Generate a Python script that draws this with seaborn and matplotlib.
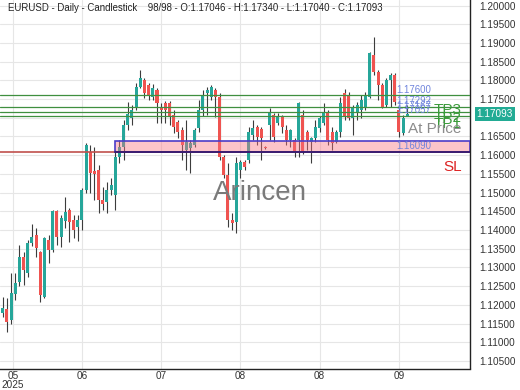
import numpy as np
import pandas as pd
import matplotlib
matplotlib.use("Agg")
import matplotlib.pyplot as plt
import matplotlib.transforms as mtransforms
from matplotlib.patches import Rectangle
import seaborn as sns

# ---------------- data ----------------
opens = [1.1178, 1.1190, 1.1160, 1.1228, 1.1262, 1.1328, 1.1285, 1.1365, 1.1386, 1.1341,
         1.1221, 1.1373, 1.1347, 1.1451, 1.1381, 1.1424, 1.1453, 1.1426, 1.1408, 1.1427,
         1.1507, 1.1608, 1.1557, 1.1560, 1.1480, 1.1475, 1.1507, 1.1493, 1.1595, 1.1622,
         1.1681, 1.1700, 1.1729, 1.1782, 1.1801, 1.1788, 1.1756, 1.1774, 1.1729, 1.1740,
         1.1740, 1.1707, 1.1688, 1.1667, 1.1614, 1.1619, 1.1627, 1.1672, 1.1720, 1.1766,
         1.1756, 1.1774, 1.1756, 1.1595, 1.1547, 1.1427, 1.1421, 1.1560, 1.1581, 1.1587,
         1.1654, 1.1675, 1.1670, 1.1622, 1.1681, 1.1707, 1.1686, 1.1702, 1.1667, 1.1640,
         1.1640, 1.1640, 1.1707, 1.1662, 1.1635, 1.1646, 1.1672, 1.1686, 1.1713, 1.1662,
         1.1635, 1.1662, 1.1766, 1.1761, 1.1699, 1.1713, 1.1721, 1.1729, 1.1756, 1.1868,
         1.1822, 1.1788, 1.1734, 1.1801, 1.1814, 1.1721, 1.1659, 1.17046]
highs = [1.1221, 1.1218, 1.1285, 1.1285, 1.1360, 1.1341, 1.1373, 1.1416, 1.1405, 1.1345,
         1.1381, 1.1386, 1.1453, 1.1453, 1.1440, 1.1488, 1.1459, 1.1440, 1.1440, 1.1512,
         1.1632, 1.1627, 1.1621, 1.1573, 1.1515, 1.1528, 1.1539, 1.1614, 1.1640, 1.1694,
         1.1742, 1.1735, 1.1793, 1.1827, 1.1806, 1.1793, 1.1790, 1.1780, 1.1740, 1.1745,
         1.1745, 1.1720, 1.1694, 1.1675, 1.1694, 1.1640, 1.1672, 1.1748, 1.1774, 1.1782,
         1.1788, 1.1780, 1.1766, 1.1600, 1.1579, 1.1445, 1.1595, 1.1587, 1.1587, 1.1675,
         1.1694, 1.1680, 1.1675, 1.1625, 1.1726, 1.1713, 1.1713, 1.1707, 1.1680, 1.1670,
         1.1646, 1.1742, 1.1721, 1.1667, 1.1648, 1.1694, 1.1705, 1.1740, 1.1721, 1.1675,
         1.1667, 1.1756, 1.1777, 1.1769, 1.1734, 1.1742, 1.1761, 1.1769, 1.1876, 1.1916,
         1.1827, 1.1793, 1.1806, 1.1820, 1.1820, 1.1726, 1.1707, 1.17340]
lows = [1.1168, 1.1127, 1.1150, 1.1213, 1.1250, 1.1253, 1.1275, 1.1358, 1.1328, 1.1208,
        1.1218, 1.1312, 1.1341, 1.1360, 1.1354, 1.1405, 1.1368, 1.1379, 1.1370, 1.1400,
        1.1499, 1.1500, 1.1480, 1.1445, 1.1453, 1.1445, 1.1493, 1.1453, 1.1579, 1.1587,
        1.1667, 1.1680, 1.1720, 1.1780, 1.1753, 1.1748, 1.1748, 1.1686, 1.1686, 1.1686,
        1.1680, 1.1660, 1.1646, 1.1587, 1.1560, 1.1552, 1.1622, 1.1662, 1.1705, 1.1707,
        1.1748, 1.1702, 1.1587, 1.1540, 1.1408, 1.1400, 1.1392, 1.1540, 1.1560, 1.1579,
        1.1640, 1.1627, 1.1587, 1.1616, 1.1640, 1.1635, 1.1680, 1.1659, 1.1627, 1.1622,
        1.1595, 1.1595, 1.1603, 1.1614, 1.1579, 1.1635, 1.1662, 1.1680, 1.1627, 1.1614,
        1.1632, 1.1648, 1.1694, 1.1694, 1.1654, 1.1694, 1.1700, 1.1721, 1.1753, 1.1814,
        1.1748, 1.1726, 1.1729, 1.1729, 1.1734, 1.1648, 1.1654, 1.17040]
closes = [1.1192, 1.1154, 1.1232, 1.1258, 1.1328, 1.1293, 1.1365, 1.1381, 1.1352, 1.1226,
          1.1379, 1.1347, 1.1451, 1.1381, 1.1432, 1.1448, 1.1421, 1.1400, 1.1426, 1.1507,
          1.1627, 1.1552, 1.1549, 1.1480, 1.1470, 1.1507, 1.1520, 1.1595, 1.1622, 1.1681,
          1.1710, 1.1722, 1.1782, 1.1806, 1.1766, 1.1761, 1.1780, 1.1740, 1.1721, 1.1721,
          1.1702, 1.1675, 1.1662, 1.1627, 1.1635, 1.1632, 1.1667, 1.1720, 1.1761, 1.1774,
          1.1782, 1.1756, 1.1595, 1.1547, 1.1427, 1.1419, 1.1579, 1.1581, 1.1568, 1.1662,
          1.1672, 1.1648, 1.1646, 1.1619, 1.1713, 1.1648, 1.1702, 1.1675, 1.1640, 1.1667,
          1.1608, 1.1740, 1.1608, 1.1640, 1.1646, 1.1675, 1.1699, 1.1713, 1.1640, 1.1632,
          1.1662, 1.1740, 1.1702, 1.1699, 1.1729, 1.1734, 1.1748, 1.1761, 1.1873, 1.1822,
          1.1788, 1.1729, 1.1801, 1.1814, 1.1742, 1.1662, 1.1699, 1.17093]

tick_pos = [2.5, 19, 38, 57, 76, 95]
tick_labels = ["05\n2025", "06", "07", "08", "08", "09"]

level_values = [1.17600, 1.17292, 1.17167, 1.17057]
level_labels = ["1.17600", "1.17292", "1.17167", "1.17057"]
tp_names = ["TP3", "TP2", "TP1"]
tp_text_y = [1.17215, 1.16985, 1.16840]
at_price_y = 1.16690
zone_low, zone_high = 1.16090, 1.16390
zone_start = 27
sl_value = 1.16090
sl_text_y = 1.15690
last_close = 1.17093
title_text = ("EURUSD - Daily - Candlestick    98/98 - O:1.17046 - H:1.17340 "
              "- L:1.17040 - C:1.17093")

# ---------------- style ----------------
sns.set_theme(style="white")
plt.rcParams['font.family'] = ['Liberation Sans', 'DejaVu Sans']

GREEN = '#26a69a'
RED = '#ef5350'

df = pd.DataFrame({"open": opens, "high": highs, "low": lows, "close": closes})
df["idx"] = np.arange(len(df))
df["up"] = df["close"] >= df["open"]
df["body_lo"] = df[["open", "close"]].min(axis=1)
df["body_h"] = (df["close"] - df["open"]).abs().clip(lower=0.00012)

fig = plt.figure(figsize=(5.2, 3.9), dpi=100)
ax = fig.add_axes([0, 21.5 / 390, 470 / 520, 368.5 / 390])

# grid
yt = np.round(np.arange(1.105, 1.2001, 0.005), 3)
for y in yt:
    ax.axhline(y, color='#e6e6e6', lw=0.8, zorder=0)
for x in tick_pos:
    ax.axvline(x, color='#e6e6e6', lw=0.8, zorder=0)

# candles
ax.vlines(df["idx"], df["low"], df["high"], color='#3c3c3c', lw=0.8, zorder=2)
ax.bar(df["idx"], df["body_h"], bottom=df["body_lo"], width=0.72,
       color=np.where(df["up"], GREEN, RED), edgecolor='none', zorder=3)

xmax = 112.06
ax.set_xlim(-0.65, xmax)
ax.set_ylim(1.10299, 1.20147)

# SL line
ax.axhline(sl_value, color='#c0504d', lw=1.2, zorder=4)
# zone
ax.add_patch(Rectangle((zone_start, zone_low), xmax - zone_start, zone_high - zone_low,
                       facecolor=(0.98, 0.45, 0.5, 0.42), edgecolor='#4b3cc8',
                       lw=1.2, zorder=5))
ax.plot([zone_start, xmax], [zone_low, zone_low], color='#3a1a6a', lw=1.3, zorder=6)

# green levels
for v in level_values:
    ax.axhline(v, color='#3f8f3f', lw=0.9, zorder=6)

lab_x = 94.3
for v, t in zip(level_values, level_labels):
    ax.text(lab_x, v + 0.00012, t, fontsize=6.9, color='#6f84dc', va='bottom',
            ha='left', zorder=7)
ax.text(lab_x, zone_low + 0.00012, "1.16090", fontsize=6.9, color='#6f84dc',
        va='bottom', ha='left', zorder=7)

tx = 110.1
for name, y in zip(tp_names, tp_text_y):
    ax.text(tx, y, name, fontsize=11, color='#3a9a3a', ha='right', va='center', zorder=8)
ax.text(tx, at_price_y, "At Price", fontsize=11, color='#8c8c8c', ha='right',
        va='center', zorder=8)
ax.text(tx, sl_text_y, "SL", fontsize=11, color='#dd2222', ha='right', va='center', zorder=8)

# watermark
ax.text(0.553, 0.476, "Arincen", transform=ax.transAxes, fontsize=20,
        color='#7a7a7a', ha='center', va='center', zorder=8)

# axes styling
ax.yaxis.tick_right()
ax.set_yticks(yt)
ax.set_yticklabels(["" if abs(v - 1.17) < 1e-9 else f"{v:.5f}" for v in yt])
ax.set_xticks(tick_pos)
ax.set_xticklabels(tick_labels)
ax.tick_params(axis='y', length=0, pad=7, labelsize=7.2, labelcolor='#333333')
ax.tick_params(axis='x', length=0, pad=2, labelsize=7.2, labelcolor='#333333')
for lab in ax.get_xticklabels():
    lab.set_linespacing(0.9)
for s in ['left', 'top']:
    ax.spines[s].set_visible(False)
for s in ['right', 'bottom']:
    ax.spines[s].set_color('#222222')
    ax.spines[s].set_linewidth(1.0)

# price tag
trans = mtransforms.blended_transform_factory(ax.transAxes, ax.transData)
ax.text(1.0135, last_close, "1.17093", transform=trans, fontsize=7.2, color='white',
        ha='left', va='center', zorder=9, clip_on=False,
        bbox=dict(boxstyle='square,pad=0.18', fc='#22ab94', ec='none'))

# title
fig.text(8 / 520, 1 - 8 / 390, title_text, fontsize=6.9, color='#222222',
         ha='left', va='center')

fig.savefig("out.png", dpi=100)
